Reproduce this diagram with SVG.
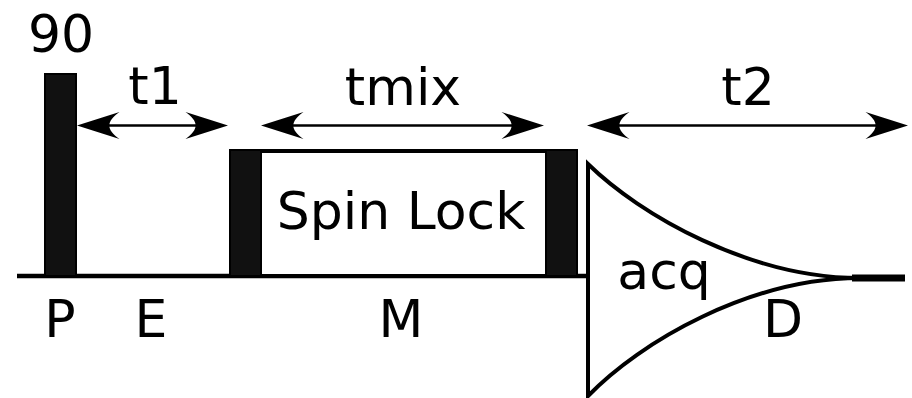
<svg xmlns="http://www.w3.org/2000/svg" width="912" height="398" viewBox="0 0 912 398">
<style>
text{font-family:"DejaVu Sans","Liberation Sans",sans-serif;font-size:52px;fill:#000;text-anchor:middle}
.pulse{fill:#111;stroke:#000;stroke-width:2}
.dim{stroke:#000;stroke-width:2.5;fill:none}
.thick{stroke:#000;stroke-width:4.5;fill:none}
.fid{stroke:#000;stroke-width:4;fill:#fff;stroke-linejoin:miter}
</style>
<defs>
<marker id="ah" markerUnits="userSpaceOnUse" viewBox="-40 -16 48 32" refX="0" refY="0" markerWidth="48" markerHeight="32" orient="auto-start-reverse">
<path d="M6,0 L-36.5,-13.5 C-23,-4 -23,4 -36.5,13.5 Z" fill="#000"/>
</marker>
</defs>
<g id="baseline"><line class="thick" x1="17" y1="276" x2="589" y2="276"/></g>
<g id="spinlock">
<rect x="247" y="151" width="315" height="125" fill="#fff" stroke="#000" stroke-width="4"/>
<text x="401" y="229">Spin Lock</text>
</g>
<g id="pulse90">
<rect class="pulse" x="45" y="74" width="31" height="202"/>
<text x="61" y="52">90</text>
</g>
<g id="pulseM1"><rect class="pulse" x="230" y="150" width="31" height="126"/></g>
<g id="pulseM2"><rect class="pulse" x="546" y="150" width="31" height="126"/></g>
<g id="acq">
<path class="fid" d="M588,164 C640,215 750,278 860,278 C750,278 640,342 588,396 Z"/>
<line x1="852" y1="278" x2="905" y2="278" stroke="#000" stroke-width="7"/>
<text x="664" y="289">acq</text>
</g>
<g id="connectors">
<line class="dim" x1="83" y1="125.5" x2="222" y2="125.5" marker-start="url(#ah)" marker-end="url(#ah)"/>
<line class="dim" x1="267" y1="125.5" x2="538" y2="125.5" marker-start="url(#ah)" marker-end="url(#ah)"/>
<line class="dim" x1="593" y1="125.5" x2="902" y2="125.5" marker-start="url(#ah)" marker-end="url(#ah)"/>
</g>
<g id="labels">
<text x="155" y="104">t1</text>
<text x="403" y="105">tmix</text>
<text x="748" y="105">t2</text>
<text x="60" y="337">P</text>
<text x="151" y="337">E</text>
<text x="401" y="337">M</text>
<text x="783" y="337">D</text>
</g>
</svg>
